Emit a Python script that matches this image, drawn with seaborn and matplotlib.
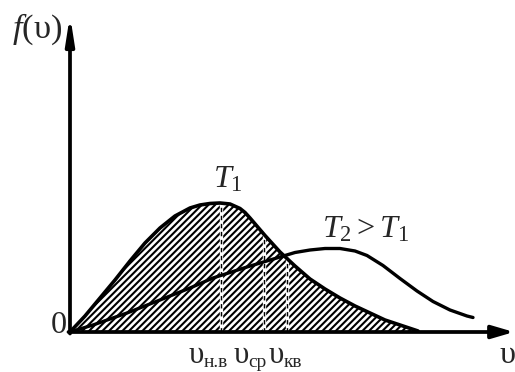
import numpy as np
import pandas as pd
import matplotlib
matplotlib.use("Agg")
import matplotlib.pyplot as plt
import seaborn as sns

# Maxwell speed distribution at two temperatures (arbitrary units)
v_t1 = [0.0, 0.3, 0.6, 0.9, 1.2, 1.5, 1.8, 2.1, 2.4, 2.6, 2.8, 3.0, 3.2, 3.4,
        3.5, 3.6, 3.9, 4.2, 4.5, 4.8, 5.1, 5.4, 5.7, 6.0, 6.3, 6.6, 6.96]
f_t1 = [0.0, 0.32, 0.68, 1.04, 1.42, 1.78, 2.08, 2.32, 2.48, 2.54, 2.57, 2.58,
        2.56, 2.47, 2.39, 2.28, 1.93, 1.60, 1.32, 1.06, 0.86, 0.68, 0.52, 0.38,
        0.24, 0.14, 0.02]

v_t2 = [0.0, 0.46, 1.14, 1.8, 2.4, 2.86, 3.54, 4.2, 4.5, 4.8, 5.1, 5.4, 5.7,
        5.94, 6.26, 6.6, 6.94, 7.26, 7.6, 7.94, 8.06]
f_t2 = [0.0, 0.14, 0.38, 0.64, 0.88, 1.08, 1.30, 1.50, 1.59, 1.64, 1.67, 1.67,
        1.62, 1.53, 1.33, 1.07, 0.82, 0.61, 0.44, 0.32, 0.29]

# characteristic speeds for T1: most probable, mean, root-mean-square
speed_subscripts = ["н.в", "ср", "кв"]
speed_values = [3.02, 3.88, 4.34]
speed_heights = [2.58, 1.94, 1.50]
speed_label_left = [2.38, 3.27, 3.98]

sns.set_style("white")
plt.rcParams["font.family"] = ["Liberation Serif", "DejaVu Serif"]
plt.rcParams["mathtext.fontset"] = "custom"
plt.rcParams["mathtext.rm"] = "Liberation Serif"
plt.rcParams["mathtext.it"] = "Liberation Serif:italic"
plt.rcParams["hatch.linewidth"] = 1.5
plt.rcParams["hatch.color"] = "black"

DPI = 100
fig = plt.figure(figsize=(515 / DPI, 372 / DPI), dpi=DPI)
ax = fig.add_axes([0, 0, 1, 1])
ax.set_xlim(-1.4, 8.9)
ax.set_ylim(-0.8, 6.64)
ax.axis("off")

df1 = pd.DataFrame({"v": v_t1, "f": f_t1})
df2 = pd.DataFrame({"v": v_t2, "f": f_t2})

# hatched area under the T1 curve
ax.fill_between(df1["v"], df1["f"], 0, facecolor="white", edgecolor="black",
                hatch="/////", linewidth=0, zorder=1)

# characteristic speed markers
for v, h in zip(speed_values, speed_heights):
    ax.plot([v, v], [0, h], color="white", lw=2.4, zorder=2,
            solid_capstyle="butt")
    ax.plot([v, v], [0, h], color="black", lw=1.05, zorder=3,
            linestyle=(0, (3.0, 2.5)))

sns.lineplot(data=df1, x="v", y="f", ax=ax, color="black", lw=2.6,
             sort=False, estimator=None, zorder=4)
sns.lineplot(data=df2, x="v", y="f", ax=ax, color="black", lw=2.4,
             sort=False, estimator=None, zorder=4)
for ln in ax.lines:
    ln.set_solid_joinstyle("round")
    ln.set_solid_capstyle("round")

# coordinate axes with arrows
x_arrow = dict(arrowstyle="-|>,head_length=0.75,head_width=0.22", lw=2.7,
               color="black", shrinkA=0, shrinkB=0, mutation_scale=17.6)
y_arrow = dict(arrowstyle="-|>,head_length=0.9,head_width=0.14", lw=2.7,
               color="black", shrinkA=0, shrinkB=0, mutation_scale=17.6)
ax.annotate("", xy=(8.88, 0), xytext=(-0.03, 0), arrowprops=x_arrow, zorder=5)
ax.annotate("", xy=(0, 6.34), xytext=(0, -0.03), arrowprops=y_arrow, zorder=5)

fs = 23.2
ax.text(-1.16, 5.88, r"$f(\mathrm{υ})$", fontsize=24.8, ha="left",
        va="baseline")
ax.text(-0.07, -0.02, "0", fontsize=fs, ha="right", va="baseline")
ax.text(8.6, -0.62, "υ", fontsize=fs, ha="left", va="baseline")
ax.text(2.86, 2.88, r"$T_1$", fontsize=fs, ha="left", va="baseline")
ax.text(5.04, 1.88, r"$T_2 > T_1$", fontsize=fs, ha="left", va="baseline")
for sub, left in zip(speed_subscripts, speed_label_left):
    ax.text(left, -0.62, "υ", fontsize=fs * 0.96, ha="left", va="baseline")
    ax.text(left + 0.30, -0.70, sub, fontsize=fs * 0.6, ha="left",
            va="baseline")

fig.savefig("out.png", dpi=DPI)
